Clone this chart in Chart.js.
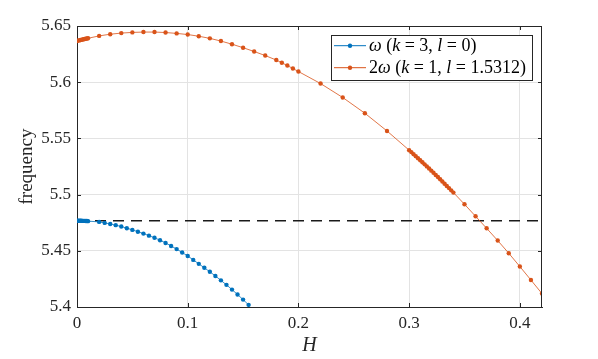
<!DOCTYPE html>
<html>
<head>
<meta charset="utf-8">
<script src="https://cdn.jsdelivr.net/npm/chart.js@4.4.1/dist/chart.umd.min.js"></script>
<style>
  html,body{margin:0;padding:0;background:#fff;}
  #wrap{width:598px;height:359px;position:relative;}
</style>
</head>
<body>
<div id="wrap"><canvas id="chart" width="598" height="359"></canvas></div>
<script>
// data
const hOmega = [0,0.001,0.002,0.003,0.004,0.005,0.006,0.007,0.008,0.009,0.01,
  0.02,0.025,0.03,0.035,0.04,0.045,0.05,0.055,0.06,0.065,0.07,0.075,0.08,0.085,0.09,0.095,
  0.1,0.105,0.11,0.115,0.12,0.125,0.13,0.135,0.14,0.145,0.15,0.155];
const fOmega = [5.4767,5.4767,5.4767,5.4767,5.4767,5.4766,5.4766,5.4766,5.4765,5.4765,5.4764,
  5.4757,5.4748,5.4739,5.4728,5.4716,5.4701,5.4686,5.4670,5.4653,5.4635,5.4616,5.4594,5.4570,5.4543,5.4515,5.4485,
  5.4454,5.4419,5.4384,5.4349,5.4313,5.4276,5.4237,5.4197,5.4155,5.4111,5.4066,5.4019];

const h2Omega = [0,0.001,0.002,0.003,0.004,0.005,0.006,0.007,0.008,0.009,0.01,
  0.02,0.03,0.04,0.05,0.06,0.07,0.08,0.09,0.1,0.11,0.12,0.13,0.14,0.15,0.16,0.17,0.18,
  0.185,0.19,0.195,0.2,0.22,0.24,0.26,0.28,
  0.3,0.302,0.304,0.306,0.308,0.31,0.312,0.314,0.316,0.318,0.32,0.322,0.324,0.326,0.328,0.33,0.332,0.334,0.336,0.338,0.34,
  0.35,0.36,0.37,0.38,0.39,0.4,0.41,0.42];
const f2Omega = [5.6367,5.6370,5.6372,5.6375,5.6377,5.6380,5.6382,5.6384,5.6387,5.6389,5.6391,
  5.6412,5.6427,5.6437,5.6443,5.6446,5.6446,5.6442,5.6434,5.6424,5.6409,5.6390,5.6366,5.6338,5.6307,5.6273,5.6237,5.6197,
  5.6173,5.6148,5.6122,5.6095,5.5988,5.5864,5.5724,5.5566,
  5.5395,5.5378,5.5360,5.5342,5.5324,5.5306,5.5288,5.5269,5.5251,5.5232,5.5213,5.5194,5.5175,5.5156,5.5136,5.5117,5.5097,5.5077,5.5058,5.5038,5.5018,
  5.4914,5.4807,5.4700,5.4591,5.4478,5.4360,5.4240,5.4119];

const hRef = [0,0.42];
const fRef = [5.4767,5.4767];

const xTicks = [0,0.1,0.2,0.3,0.4];
const yTicks = [5.4,5.45,5.5,5.55,5.6,5.65];

const labels = ['ω (k = 3, l = 0)','2ω (k = 1, l = 1.5312)'];
const colors = ['#0072BD','#D95319'];

const FONT = "'Liberation Serif', 'DejaVu Serif', serif";
const AX = '#262626';

const pts = (xs,ys)=>xs.map((x,i)=>({x, y:ys[i]}));

// draw a label with letters in italic (LaTeX math look)
function mathText(ctx, str, x, y, size){
  let cx = x;
  for(const ch of str){
    const it = /[A-Za-zω]/.test(ch);
    ctx.font = (it?'italic ':'')+size+'px '+FONT;
    ctx.fillText(ch, cx, y);
    cx += ctx.measureText(ch).width;
  }
}

const boxPlugin = {
  id:'box',
  afterDraw(chart){
    const {ctx, chartArea:a, scales:{x, y}} = chart;
    ctx.save();
    ctx.strokeStyle = AX; ctx.lineWidth = 1;
    ctx.beginPath();
    ctx.moveTo(a.left, a.top+0.5); ctx.lineTo(a.right, a.top+0.5);
    ctx.moveTo(a.right-0.5, a.top); ctx.lineTo(a.right-0.5, a.bottom);
    // inward ticks
    const tl = 4;
    xTicks.forEach(v=>{
      const px = Math.round(x.getPixelForValue(v))+0.5;
      ctx.moveTo(px, a.bottom); ctx.lineTo(px, a.bottom-tl);
      ctx.moveTo(px, a.top); ctx.lineTo(px, a.top+tl);
    });
    yTicks.forEach(v=>{
      const py = Math.round(y.getPixelForValue(v))+0.5;
      ctx.moveTo(a.left, py); ctx.lineTo(a.left+tl, py);
      ctx.moveTo(a.right, py); ctx.lineTo(a.right-tl, py);
    });
    ctx.stroke();

    // legend
    const L = 331.5, T = 35.5, W = 201, H = 45;
    ctx.fillStyle = '#fff'; ctx.fillRect(L, T, W, H);
    ctx.strokeStyle = AX; ctx.lineWidth = 1;
    ctx.strokeRect(L, T, W, H);
    [45.7, 67.7].forEach((ry,i)=>{
      ctx.strokeStyle = colors[i]; ctx.lineWidth = 1;
      ctx.beginPath(); ctx.moveTo(334, ry); ctx.lineTo(366, ry); ctx.stroke();
      ctx.fillStyle = colors[i];
      ctx.beginPath(); ctx.arc(350, ry, 2.2, 0, Math.PI*2); ctx.fill();
      ctx.fillStyle = '#000'; ctx.textBaseline = 'middle'; ctx.textAlign = 'left';
      mathText(ctx, labels[i], 369, ry+1, 18);
    });
    ctx.restore();
  }
};

new Chart(document.getElementById('chart'), {
  type:'scatter',
  data:{datasets:[
    {label:labels[0], data:pts(hOmega,fOmega), showLine:true, borderColor:colors[0], backgroundColor:colors[0],
      borderWidth:0.8, pointRadius:2.2, pointBorderWidth:0},
    {label:labels[1], data:pts(h2Omega,f2Omega), showLine:true, borderColor:colors[1], backgroundColor:colors[1],
      borderWidth:0.8, pointRadius:2.2, pointBorderWidth:0},
    {label:'ref', data:pts(hRef,fRef), showLine:true, borderColor:'#1a1a1a', borderWidth:1.4,
      borderDash:[11,7], pointRadius:0}
  ]},
  options:{
    responsive:false, animation:false,
    layout:{padding:{top:26, right:56, left:0, bottom:0}},
    plugins:{legend:{display:false}, tooltip:{enabled:false}},
    scales:{
      x:{type:'linear', min:0, max:0.42,
        afterBuildTicks:s=>{ s.ticks = xTicks.map(v=>({value:v})); },
        afterFit:s=>{ s.height = 52; },
        ticks:{color:AX, padding:6, font:{family:FONT, size:17}, callback:v=>String(v), maxRotation:0},
        grid:{color:'#e3e3e3', drawTicks:false},
        border:{color:AX, width:1},
        title:{display:true, text:'H', color:AX, padding:{top:0,bottom:1}, font:{family:FONT, size:20, style:'italic'}}
      },
      y:{type:'linear', min:5.4, max:5.65,
        afterBuildTicks:s=>{ s.ticks = yTicks.map(v=>({value:v})); },
        afterFit:s=>{ s.width = 77; },
        ticks:{color:AX, padding:6, font:{family:FONT, size:17}, callback:v=>String(v)},
        grid:{color:'#e3e3e3', drawTicks:false},
        border:{color:AX, width:1},
        title:{display:true, text:'frequency', color:AX, padding:{top:16,bottom:0}, font:{family:FONT, size:19}}
      }
    }
  },
  plugins:[boxPlugin]
});
</script>
</body>
</html>
